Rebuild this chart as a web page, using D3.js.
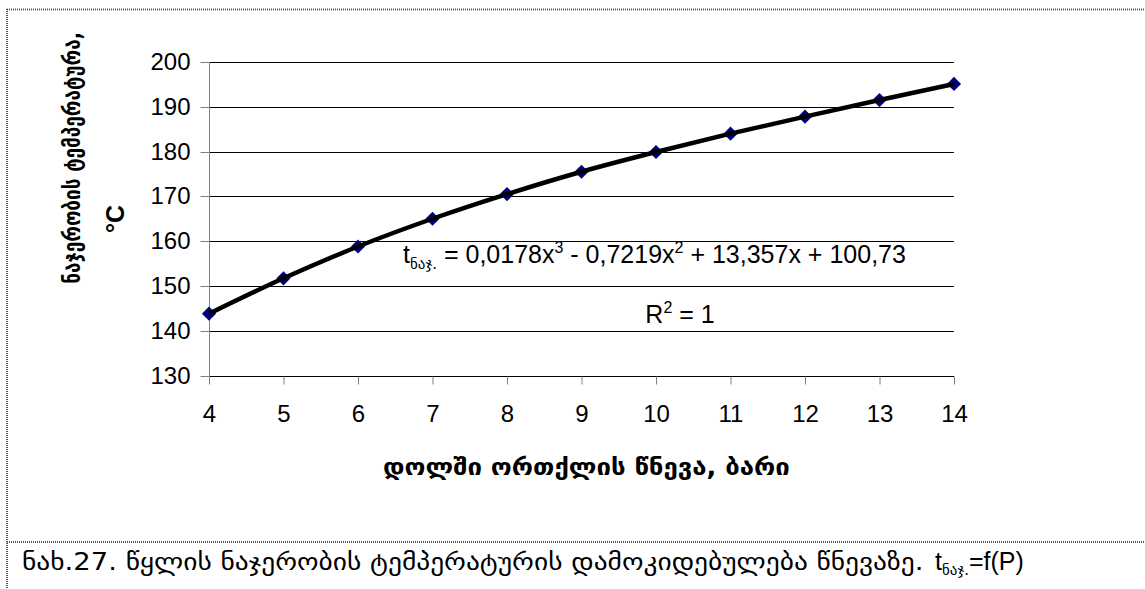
<!DOCTYPE html>
<html>
<head>
<meta charset="utf-8">
<script src="https://cdn.jsdelivr.net/npm/d3@7"></script>
<style>
  html, body { margin: 0; padding: 0; background: #fff; }
  svg { display: block; }
</style>
</head>
<body>
<svg id="chart" width="1145" height="589"></svg>
<script>
// ---- data ----
const pressure = [4, 5, 6, 7, 8, 9, 10, 11, 12, 13, 14];
const temperature = [143.8, 151.7, 158.8, 165.0, 170.5, 175.5, 179.9, 184.0, 187.8, 191.5, 195.1];
const xTicks = [4, 5, 6, 7, 8, 9, 10, 11, 12, 13, 14];
const yTicks = [130, 140, 150, 160, 170, 180, 190, 200];
const yTitle1 = "ნაჯერობის ტემპერატურა,";
const yTitle2 = "°C";
const xTitle = "დოლში ორთქლის წნევა, ბარი";
const captionGeo = "ნახ.27. წყლის ნაჯერობის ტემპერატურის დამოკიდებულება წნევაზე.";
const subNaj = "ნაჯ.";

const svg = d3.select("#chart");
const W = 1145, H = 589;
const geo = "'DejaVu Sans', 'Noto Sans', sans-serif";
const arial = "'Liberation Sans', Arial, sans-serif";

// helper: scale a text horizontally to a target width (keeps bbox honest)
function fitText(sel, target, cx, cy, rot, anchor) {
  const w = sel.node().getComputedTextLength();
  const k = Math.max(0.7, Math.min(1.3, target / w));
  sel.attr("text-anchor", anchor)
     .attr("transform", `translate(${cx},${cy}) rotate(${rot}) scale(${k},1)`);
}

// ---- frame (dotted) ----
const frame = svg.append("g").attr("stroke", "#555").attr("stroke-width", 2)
  .attr("stroke-dasharray", "1 1").attr("fill", "none");
frame.append("line").attr("x1", 7).attr("x2", W).attr("y1", 9.5).attr("y2", 9.5);
frame.append("line").attr("x1", 7).attr("x2", 7).attr("y1", 9).attr("y2", H);
frame.append("line").attr("x1", 7).attr("x2", W).attr("y1", 542).attr("y2", 542);

// ---- scales ----
const x = d3.scaleLinear().domain([4, 14]).range([209, 954]);
const y = d3.scaleLinear().domain([130, 200]).range([375.5, 62]);

// gridlines
svg.append("g").selectAll("line").data(yTicks).join("line")
  .attr("x1", x(4)).attr("x2", x(14))
  .attr("y1", d => Math.round(y(d)) + 0.5).attr("y2", d => Math.round(y(d)) + 0.5)
  .attr("stroke", "#000").attr("stroke-width", 1);

// y axis
const yAxis = svg.append("g").attr("transform", `translate(${Math.round(x(4)) + 0.5},0)`)
  .call(d3.axisLeft(y).tickValues(yTicks).tickSize(9).tickPadding(10).tickFormat(d3.format("d")));
yAxis.select(".domain").attr("stroke", "#808080").attr("d", `M0,${y(200)}V${y(130) + 8}`);
yAxis.selectAll(".tick line").attr("stroke", "#808080");
yAxis.selectAll(".tick").attr("transform", d => `translate(0,${Math.round(y(d)) + 0.5})`);
yAxis.selectAll("text").attr("font-family", arial).attr("font-size", 24).attr("fill", "#000");

// x axis
const xAxis = svg.append("g").attr("transform", `translate(0,${Math.round(y(130)) + 0.5})`)
  .call(d3.axisBottom(x).tickValues(xTicks).tickSize(8).tickPadding(20).tickFormat(d3.format("d")));
xAxis.select(".domain").remove();
xAxis.selectAll(".tick line").attr("stroke", "#808080");
xAxis.selectAll("text").attr("font-family", arial).attr("font-size", 24).attr("fill", "#000");

// markers
const pts = pressure.map((p, i) => [p, temperature[i]]);
svg.append("g").selectAll("path").data(pts).join("path")
  .attr("d", d3.symbol().type(d3.symbolSquare).size(100))
  .attr("transform", d => `translate(${x(d[0])},${y(d[1])}) rotate(45)`)
  .attr("fill", "#000080");

// trend line
svg.append("path").datum(pts)
  .attr("d", d3.line().x(d => x(d[0])).y(d => y(d[1])).curve(d3.curveMonotoneX))
  .attr("fill", "none").attr("stroke", "#000").attr("stroke-width", 4.5)
  .attr("stroke-linejoin", "round");

// equation
const eq = svg.append("text").attr("x", 403).attr("y", 263)
  .attr("font-family", arial).attr("font-size", 25).attr("fill", "#000");
eq.append("tspan").text("t");
eq.append("tspan").attr("font-family", geo).attr("font-size", 15).attr("dy", 6).text(subNaj);
eq.append("tspan").attr("dy", -6).text(" = 0,0178x");
eq.append("tspan").attr("font-size", 16).attr("dy", -10).text("3");
eq.append("tspan").attr("dy", 10).text(" - 0,7219x");
eq.append("tspan").attr("font-size", 16).attr("dy", -10).text("2");
eq.append("tspan").attr("dy", 10).text(" + 13,357x + 100,73");

const r2 = svg.append("text").attr("x", 680).attr("y", 323).attr("text-anchor", "middle")
  .attr("font-family", arial).attr("font-size", 25).attr("fill", "#000");
r2.append("tspan").text("R");
r2.append("tspan").attr("font-size", 16).attr("dy", -10).text("2");
r2.append("tspan").attr("dy", 10).text(" = 1");

// y title
const yt1 = svg.append("text")
  .attr("font-family", geo).attr("font-weight", "bold").attr("font-size", 24)
  .text(yTitle1);
fitText(yt1, 252, 80, 158, -90, "middle");
svg.append("text")
  .attr("transform", "translate(124,219) rotate(-90)")
  .attr("text-anchor", "middle")
  .attr("font-family", arial).attr("font-weight", "bold").attr("font-size", 25)
  .text(yTitle2);

// x title
const xt = svg.append("text")
  .attr("font-family", geo).attr("font-weight", "bold").attr("font-size", 24)
  .text(xTitle);
fitText(xt, 407, 383, 475, 0, "start");

// caption
const cap1 = svg.append("text")
  .attr("font-family", geo).attr("font-size", 24).attr("fill", "#000")
  .text(captionGeo);
fitText(cap1, 902, 22, 570, 0, "start");
const cap2 = svg.append("text").attr("x", 935).attr("y", 570)
  .attr("font-family", arial).attr("font-size", 25).attr("fill", "#000");
cap2.append("tspan").text("t");
cap2.append("tspan").attr("font-family", geo).attr("font-size", 15).attr("dy", 5).text(subNaj);
cap2.append("tspan").attr("dy", -5).text("=f(P)");
</script>
</body>
</html>
